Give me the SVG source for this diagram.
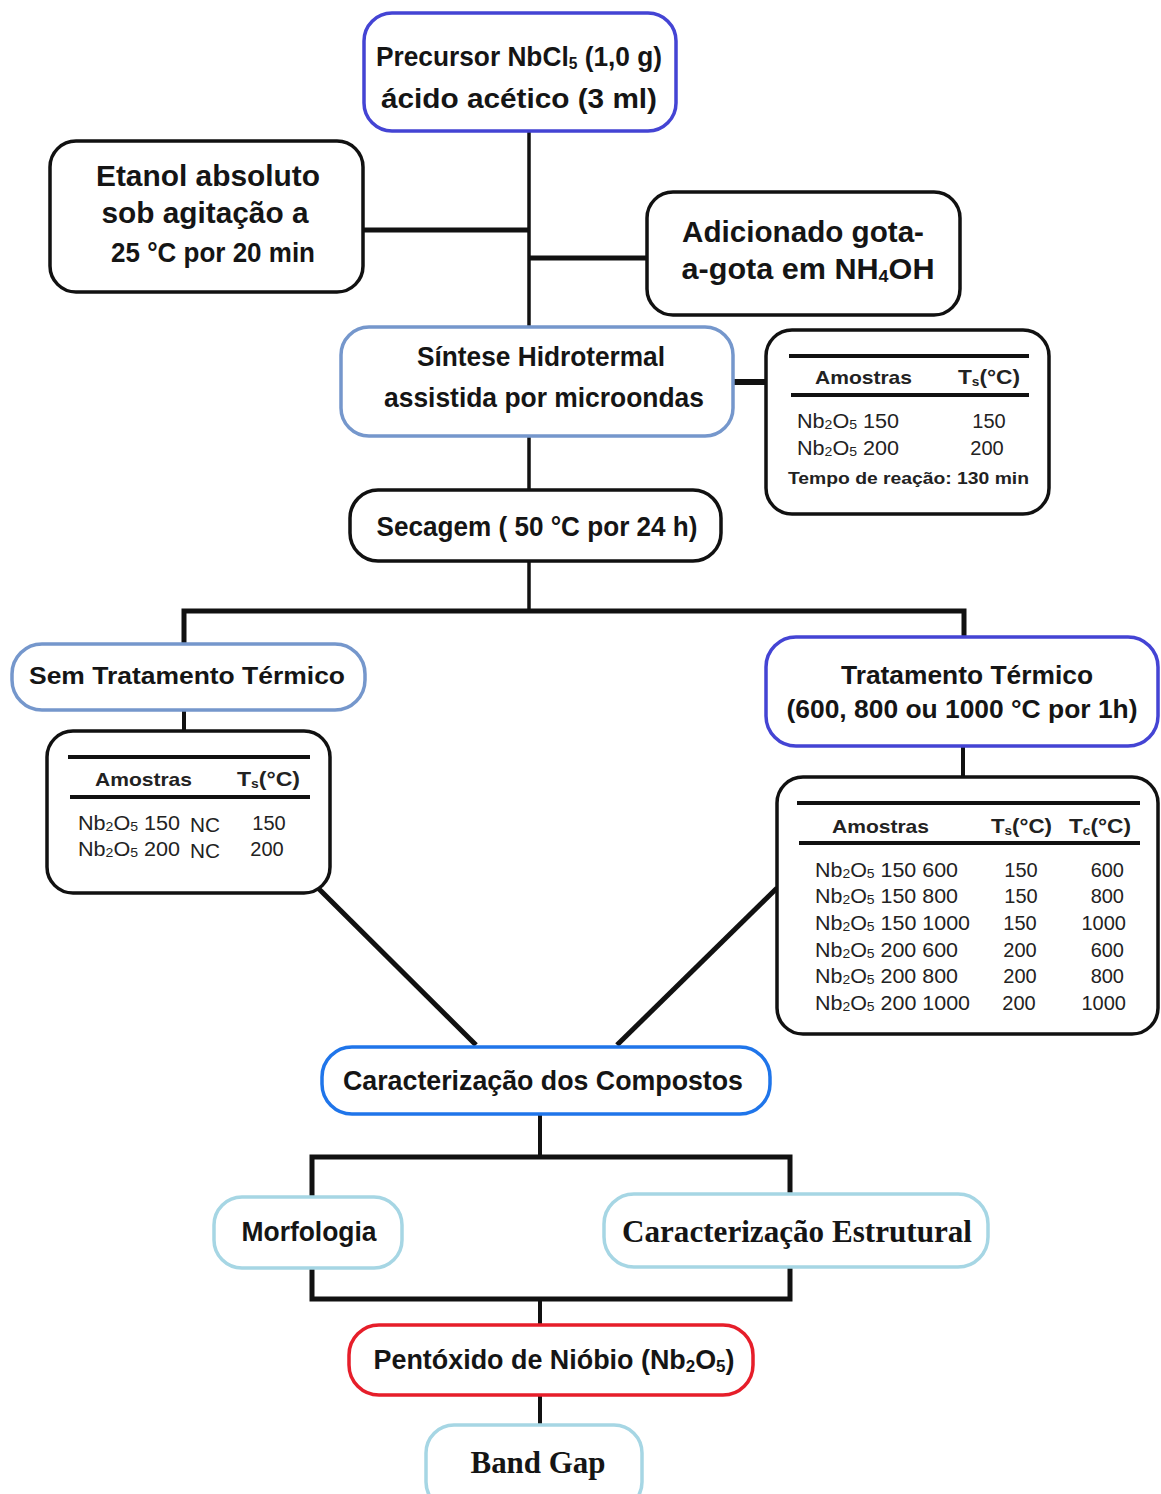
<svg xmlns="http://www.w3.org/2000/svg" width="1161" height="1494" viewBox="0 0 1161 1494">
<style>
.bg{fill:#ffffff}
.node{fill:#ffffff;stroke-width:3.5}
.blk{stroke:#111111}
.blue{stroke:#4444d4}
.steel{stroke:#7597cc}
.bright{stroke:#1f75ea}
.cyan{stroke:#a6d6e4}
.red{stroke:#e61e2a}
.t{font-family:"Liberation Sans",Arial,sans-serif;font-weight:bold;fill:#151515;text-anchor:middle}
.s{font-family:"Liberation Serif","Times New Roman",serif;font-weight:bold;fill:#151515;text-anchor:middle}
.tb{font-family:"Liberation Sans",Arial,sans-serif;fill:#222222}
.hd{font-weight:bold}
.rule{stroke:#111111;stroke-width:4}
.conn line,.conn polyline{stroke:#111111;fill:none}
</style>
<rect class="bg" x="0" y="0" width="1161" height="1494"/>

<g class="conn" id="connectors">
  <line x1="529" y1="131" x2="529" y2="328" stroke-width="3.5"/>
  <line x1="363" y1="230" x2="529" y2="230" stroke-width="5"/>
  <line x1="529" y1="258" x2="647" y2="258" stroke-width="5"/>
  <line x1="733" y1="382" x2="766" y2="382" stroke-width="6"/>
  <line x1="529" y1="436" x2="529" y2="490" stroke-width="3.5"/>
  <line x1="529" y1="561" x2="529" y2="611" stroke-width="3.5"/>
  <polyline points="184,644 184,611 964,611 964,637" stroke-width="5"/>
  <line x1="184" y1="710" x2="184" y2="731" stroke-width="4"/>
  <line x1="963" y1="746" x2="963" y2="777" stroke-width="4"/>
  <line x1="318" y1="888" x2="476" y2="1045" stroke-width="5"/>
  <line x1="777" y1="888" x2="617" y2="1045" stroke-width="5"/>
  <line x1="540" y1="1114" x2="540" y2="1157" stroke-width="4"/>
  <polyline points="312,1198 312,1157 790,1157 790,1196" stroke-width="5"/>
  <polyline points="312,1268 312,1299 790,1299 790,1267" stroke-width="5"/>
  <line x1="540" y1="1299" x2="540" y2="1326" stroke-width="4"/>
  <line x1="540" y1="1395" x2="540" y2="1427" stroke-width="4"/>
</g>

<g id="precursor">
  <rect class="node blue" x="364" y="13" width="312" height="118" rx="28"/>
  <text class="t" x="519" y="66" font-size="27" textLength="286" lengthAdjust="spacingAndGlyphs">Precursor NbCl<tspan font-size="16" dy="3">5</tspan><tspan dy="-3"> (1,0 g)</tspan></text>
  <text class="t" x="519" y="108" font-size="28" textLength="276" lengthAdjust="spacingAndGlyphs">ácido acético (3 ml)</text>
</g>

<g id="etanol">
  <rect class="node blk" x="50" y="141" width="313" height="151" rx="26"/>
  <text class="t" x="208" y="186" font-size="29" textLength="224" lengthAdjust="spacingAndGlyphs">Etanol absoluto</text>
  <text class="t" x="205" y="223" font-size="29" textLength="207" lengthAdjust="spacingAndGlyphs">sob agitação a</text>
  <text class="t" x="213" y="262" font-size="27" textLength="204" lengthAdjust="spacingAndGlyphs">25 °C por 20 min</text>
</g>

<g id="adicionado">
  <rect class="node blk" x="647" y="192" width="313" height="123" rx="26"/>
  <text class="t" x="803" y="242" font-size="29" textLength="242" lengthAdjust="spacingAndGlyphs">Adicionado gota-</text>
  <text class="t" x="808" y="279" font-size="29" textLength="253" lengthAdjust="spacingAndGlyphs">a-gota em NH<tspan font-size="17" dy="3">4</tspan><tspan dy="-3">OH</tspan></text>
</g>

<g id="sintese">
  <rect class="node steel" x="341" y="327" width="392" height="109" rx="28"/>
  <text class="t" x="541" y="366" font-size="27" textLength="248" lengthAdjust="spacingAndGlyphs">Síntese Hidrotermal</text>
  <text class="t" x="544" y="407" font-size="27" textLength="320" lengthAdjust="spacingAndGlyphs">assistida por microondas</text>
</g>

<g id="tabela-sintese">
  <rect class="node blk" x="766" y="330" width="283" height="184" rx="26"/>
  <line class="rule" x1="789" y1="356" x2="1029" y2="356"/>
  <line class="rule" x1="791" y1="395" x2="1029" y2="395"/>
  <text class="tb hd" x="815" y="384" font-size="19" textLength="97" lengthAdjust="spacingAndGlyphs">Amostras</text>
  <text class="tb hd" x="958" y="384" font-size="20" textLength="62" lengthAdjust="spacingAndGlyphs">T<tspan font-size="12" dy="2">s</tspan><tspan dy="-2">(°C)</tspan></text>
  <text class="tb" x="797" y="428" font-size="20" textLength="102" lengthAdjust="spacingAndGlyphs">Nb<tspan font-size="13" dy="1">2</tspan><tspan dy="-1">O</tspan><tspan font-size="13" dy="1">5</tspan><tspan dy="-1"> 150</tspan></text>
  <text class="tb" x="989" y="428" font-size="20" text-anchor="middle">150</text>
  <text class="tb" x="797" y="455" font-size="20" textLength="102" lengthAdjust="spacingAndGlyphs">Nb<tspan font-size="13" dy="1">2</tspan><tspan dy="-1">O</tspan><tspan font-size="13" dy="1">5</tspan><tspan dy="-1"> 200</tspan></text>
  <text class="tb" x="987" y="455" font-size="20" text-anchor="middle">200</text>
  <text class="tb hd" x="788" y="484" font-size="17" textLength="241" lengthAdjust="spacingAndGlyphs">Tempo de reação: 130 min</text>
</g>

<g id="secagem">
  <rect class="node blk" x="350" y="490" width="371" height="71" rx="28"/>
  <text class="t" x="537" y="536" font-size="27" textLength="321" lengthAdjust="spacingAndGlyphs">Secagem ( 50 °C por 24 h)</text>
</g>

<g id="sem-tratamento">
  <rect class="node steel" x="12" y="644" width="353" height="66" rx="30"/>
  <text class="t" x="187" y="684" font-size="24" textLength="316" lengthAdjust="spacingAndGlyphs">Sem Tratamento Térmico</text>
</g>

<g id="tabela-sem">
  <rect class="node blk" x="47" y="731" width="283" height="162" rx="26"/>
  <line class="rule" x1="68" y1="757" x2="310" y2="757"/>
  <line class="rule" x1="70" y1="797" x2="310" y2="797"/>
  <text class="tb hd" x="95" y="786" font-size="19" textLength="97" lengthAdjust="spacingAndGlyphs">Amostras</text>
  <text class="tb hd" x="237" y="786" font-size="20" textLength="63" lengthAdjust="spacingAndGlyphs">T<tspan font-size="12" dy="2">s</tspan><tspan dy="-2">(°C)</tspan></text>
  <text class="tb" x="78" y="830" font-size="20" textLength="102" lengthAdjust="spacingAndGlyphs">Nb<tspan font-size="13" dy="1">2</tspan><tspan dy="-1">O</tspan><tspan font-size="13" dy="1">5</tspan><tspan dy="-1"> 150</tspan></text>
  <text class="tb" x="190" y="832" font-size="20" textLength="30" lengthAdjust="spacingAndGlyphs">NC</text>
  <text class="tb" x="269" y="830" font-size="20" text-anchor="middle">150</text>
  <text class="tb" x="78" y="856" font-size="20" textLength="102" lengthAdjust="spacingAndGlyphs">Nb<tspan font-size="13" dy="1">2</tspan><tspan dy="-1">O</tspan><tspan font-size="13" dy="1">5</tspan><tspan dy="-1"> 200</tspan></text>
  <text class="tb" x="190" y="858" font-size="20" textLength="30" lengthAdjust="spacingAndGlyphs">NC</text>
  <text class="tb" x="267" y="856" font-size="20" text-anchor="middle">200</text>
</g>

<g id="tratamento">
  <rect class="node blue" x="766" y="637" width="392" height="109" rx="30"/>
  <text class="t" x="967" y="684" font-size="25" textLength="252" lengthAdjust="spacingAndGlyphs">Tratamento Térmico</text>
  <text class="t" x="962" y="718" font-size="25" textLength="351" lengthAdjust="spacingAndGlyphs">(600, 800 ou 1000 °C por 1h)</text>
</g>

<g id="tabela-tratamento">
  <rect class="node blk" x="777" y="777" width="381" height="257" rx="26"/>
  <line class="rule" x1="797" y1="803" x2="1140" y2="803"/>
  <line class="rule" x1="799" y1="843" x2="1140" y2="843"/>
  <text class="tb hd" x="832" y="833" font-size="19" textLength="97" lengthAdjust="spacingAndGlyphs">Amostras</text>
  <text class="tb hd" x="991" y="833" font-size="20" textLength="61" lengthAdjust="spacingAndGlyphs">T<tspan font-size="12" dy="2">s</tspan><tspan dy="-2">(°C)</tspan></text>
  <text class="tb hd" x="1069" y="833" font-size="20" textLength="62" lengthAdjust="spacingAndGlyphs">T<tspan font-size="12" dy="2">c</tspan><tspan dy="-2">(°C)</tspan></text>
  <g font-size="20">
    <text class="tb" x="815" y="877" textLength="143" lengthAdjust="spacingAndGlyphs">Nb<tspan font-size="13" dy="1">2</tspan><tspan dy="-1">O</tspan><tspan font-size="13" dy="1">5</tspan><tspan dy="-1"> 150 600</tspan></text>
    <text class="tb" x="815" y="903" textLength="143" lengthAdjust="spacingAndGlyphs">Nb<tspan font-size="13" dy="1">2</tspan><tspan dy="-1">O</tspan><tspan font-size="13" dy="1">5</tspan><tspan dy="-1"> 150 800</tspan></text>
    <text class="tb" x="815" y="930" textLength="155" lengthAdjust="spacingAndGlyphs">Nb<tspan font-size="13" dy="1">2</tspan><tspan dy="-1">O</tspan><tspan font-size="13" dy="1">5</tspan><tspan dy="-1"> 150 1000</tspan></text>
    <text class="tb" x="815" y="957" textLength="143" lengthAdjust="spacingAndGlyphs">Nb<tspan font-size="13" dy="1">2</tspan><tspan dy="-1">O</tspan><tspan font-size="13" dy="1">5</tspan><tspan dy="-1"> 200 600</tspan></text>
    <text class="tb" x="815" y="983" textLength="143" lengthAdjust="spacingAndGlyphs">Nb<tspan font-size="13" dy="1">2</tspan><tspan dy="-1">O</tspan><tspan font-size="13" dy="1">5</tspan><tspan dy="-1"> 200 800</tspan></text>
    <text class="tb" x="815" y="1010" textLength="155" lengthAdjust="spacingAndGlyphs">Nb<tspan font-size="13" dy="1">2</tspan><tspan dy="-1">O</tspan><tspan font-size="13" dy="1">5</tspan><tspan dy="-1"> 200 1000</tspan></text>
    <text class="tb" x="1021" y="877" text-anchor="middle">150</text>
    <text class="tb" x="1021" y="903" text-anchor="middle">150</text>
    <text class="tb" x="1020" y="930" text-anchor="middle">150</text>
    <text class="tb" x="1020" y="957" text-anchor="middle">200</text>
    <text class="tb" x="1020" y="983" text-anchor="middle">200</text>
    <text class="tb" x="1019" y="1010" text-anchor="middle">200</text>
    <text class="tb" x="1124" y="877" text-anchor="end">600</text>
    <text class="tb" x="1124" y="903" text-anchor="end">800</text>
    <text class="tb" x="1126" y="930" text-anchor="end">1000</text>
    <text class="tb" x="1124" y="957" text-anchor="end">600</text>
    <text class="tb" x="1124" y="983" text-anchor="end">800</text>
    <text class="tb" x="1126" y="1010" text-anchor="end">1000</text>
  </g>
</g>

<g id="caracterizacao">
  <rect class="node bright" x="322" y="1047" width="448" height="67" rx="30"/>
  <text class="t" x="543" y="1090" font-size="27" textLength="400" lengthAdjust="spacingAndGlyphs">Caracterização dos Compostos</text>
</g>

<g id="morfologia">
  <rect class="node cyan" x="214" y="1197" width="188" height="71" rx="28"/>
  <text class="t" x="309" y="1241" font-size="27" textLength="135" lengthAdjust="spacingAndGlyphs">Morfologia</text>
</g>

<g id="estrutural">
  <rect class="node cyan" x="604" y="1194" width="384" height="73" rx="30"/>
  <text class="s" x="797" y="1242" font-size="31" textLength="350" lengthAdjust="spacingAndGlyphs">Caracterização Estrutural</text>
</g>

<g id="pentoxido">
  <rect class="node red" x="349" y="1325" width="404" height="70" rx="30"/>
  <text class="t" x="554" y="1369" font-size="27" textLength="361" lengthAdjust="spacingAndGlyphs">Pentóxido de Nióbio (Nb<tspan font-size="17" dy="3">2</tspan><tspan dy="-3">O</tspan><tspan font-size="17" dy="3">5</tspan><tspan dy="-3">)</tspan></text>
</g>

<g id="bandgap">
  <rect class="node cyan" x="426" y="1425" width="216" height="85" rx="28"/>
  <text class="s" x="538" y="1473" font-size="31" textLength="135" lengthAdjust="spacingAndGlyphs">Band Gap</text>
</g>
</svg>
